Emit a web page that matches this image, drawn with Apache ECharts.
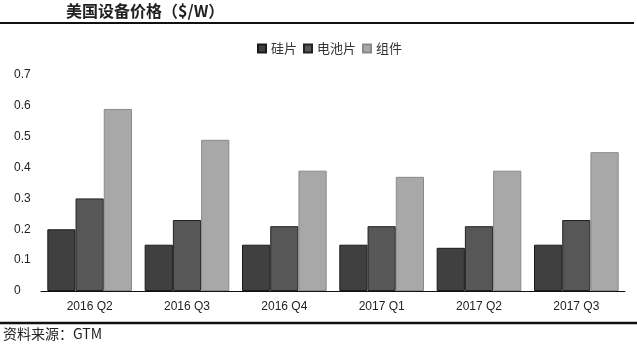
<!DOCTYPE html>
<html>
<head>
<meta charset="utf-8">
<script src="https://cdn.jsdelivr.net/npm/echarts@6/dist/echarts.min.js"></script>
<style>
  html, body { margin: 0; padding: 0; background: #fff; }
  #chart { width: 637px; height: 354px; }
</style>
</head>
<body>
<div id="chart"></div>
<script>
const categories = ["2016 Q2", "2016 Q3", "2016 Q4", "2017 Q1", "2017 Q2", "2017 Q3"];
const seriesNames = ["硅片", "电池片", "组件"];
const wafer = [0.20, 0.15, 0.15, 0.15, 0.14, 0.15];
const cell = [0.30, 0.23, 0.21, 0.21, 0.21, 0.23];
const module = [0.59, 0.49, 0.39, 0.37, 0.39, 0.45];
const yTicks = [0, 0.1, 0.2, 0.3, 0.4, 0.5, 0.6, 0.7];

const font = "'Liberation Sans', Arial, sans-serif";
const cjk = "'Noto Sans CJK SC', sans-serif";

const chart = echarts.init(document.getElementById("chart"));

const bar = (name, data, color, border) => ({
    name,
    type: "bar",
    data,
    barGap: "0%",
    barCategoryGap: "13%",
    itemStyle: { color, borderColor: border, borderWidth: 1 },
});

chart.setOption({
    animation: false,
    backgroundColor: "#fff",
    title: {
        text: "美国设备价格（$/W）",
        left: 61,
        top: -2,
        textStyle: { fontFamily: cjk, fontSize: 16, fontWeight: "bold", color: "#222" },
    },
    legend: {
        top: 37,
        left: 252,
        itemWidth: 8,
        itemHeight: 8,
        itemGap: 6,
        icon: "rect",
        textStyle: { fontFamily: cjk, fontSize: 13, color: "#333" },
        data: seriesNames,
    },
    grid: { left: 41, right: 12, top: 75, bottom: 63 },
    xAxis: {
        type: "category",
        data: categories,
        axisLine: { lineStyle: { color: "#111", width: 1 } },
        axisTick: { inside: true, length: 4, lineStyle: { color: "#111" } },
        axisLabel: { fontFamily: font, fontSize: 12, color: "#222", margin: 10 },
    },
    yAxis: {
        type: "value",
        min: yTicks[0],
        max: yTicks[yTicks.length - 1],
        interval: 0.1,
        splitLine: { show: false },
        axisLine: { show: false },
        axisTick: { show: false },
        axisLabel: {
            fontFamily: font, fontSize: 12, color: "#222",
            align: "left", margin: 27,
            formatter: (v) => (v === 0 ? "0" : v.toFixed(1)),
        },
    },
    series: [
        bar(seriesNames[0], wafer, "#404040", "#1a1a1a"),
        bar(seriesNames[1], cell, "#575757", "#222"),
        bar(seriesNames[2], module, "#a8a8a8", "#8a8a8a"),
    ],
    graphic: [
        { type: "line", shape: { x1: 0, y1: 23, x2: 634, y2: 23 }, style: { stroke: "#111", lineWidth: 2 } },
        { type: "line", shape: { x1: 0, y1: 323, x2: 637, y2: 323 }, style: { stroke: "#111", lineWidth: 2.5 } },
        {
            type: "text", left: 3, top: 327,
            style: { text: "资料来源：GTM", fontFamily: cjk, fontSize: 14, fill: "#222" },
        },
    ],
});
</script>
</body>
</html>
